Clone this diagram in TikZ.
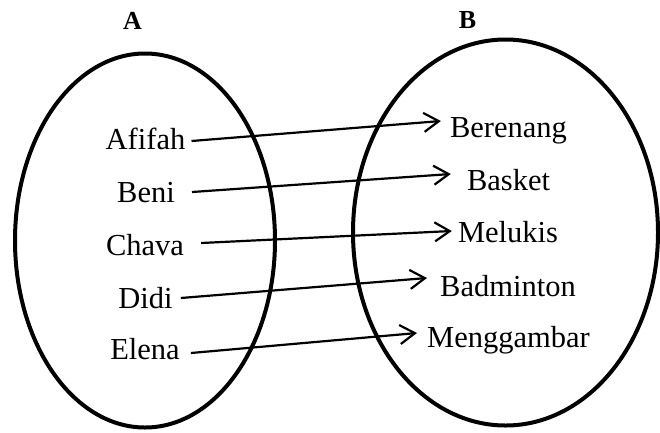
\documentclass[tikz,border=0pt]{standalone}
\usepackage{fontspec}
\setmainfont{Liberation Serif}
\usetikzlibrary{arrows.meta}

\begin{document}
\begin{tikzpicture}[x=1pt, y=-1pt,
  himpunan/.style={line width=4pt},
  nama/.style={inner sep=0, anchor=base, font=\fontsize{30.5}{36}\selectfont},
  judul/.style={inner sep=0, anchor=base, font=\fontsize{26}{30}\selectfont\bfseries},
  panah/.style={line width=2.2pt, -{Straight Barb[length=15pt,width=19pt]}}]

\useasboundingbox (0,0) rectangle (660,432);

\draw[himpunan] (145,240.5) ellipse [x radius=130pt, y radius=187pt];
\draw[himpunan] (505.5,232.5) ellipse [x radius=152.5pt, y radius=193pt];

\node[judul] (A) at (132.5,29) {A};
\node[judul] (B) at (467.5,28.5) {B};

\node[nama] (afifah) at (145.5,149) {Afifah};
\node[nama] (beni) at (146,202) {Beni};
\node[nama] (chava) at (145,255) {Chava};
\node[nama] (didi) at (145.5,308) {Didi};
\node[nama] (elena) at (145,359) {Elena};

\node[nama] (berenang) at (508.5,137.5) {Berenang};
\node[nama] (basket) at (508.5,190) {Basket};
\node[nama] (melukis) at (508,242) {Melukis};
\node[nama] (badminton) at (508,296) {Badminton};
\node[nama] (menggambar) at (508.5,347) {Menggambar};

\draw[panah] ([xshift=6pt,yshift=8pt]afifah.base east) -- ([xshift=-9pt,yshift=16.5pt]berenang.base west);
\draw[panah] ([xshift=17pt,yshift=10pt]beni.base east) -- ([xshift=-16pt,yshift=16pt]basket.base west);
\draw[panah] ([xshift=17pt,yshift=12pt]chava.base east) -- ([xshift=-6pt,yshift=11pt]melukis.base west);
\draw[panah] ([xshift=8pt,yshift=10pt]didi.base east) -- ([xshift=-13pt,yshift=18pt]badminton.base west);
\draw[panah] ([xshift=11pt,yshift=6pt]elena.base east) -- ([xshift=-10pt,yshift=14pt]menggambar.base west);

\end{tikzpicture}
\end{document}
